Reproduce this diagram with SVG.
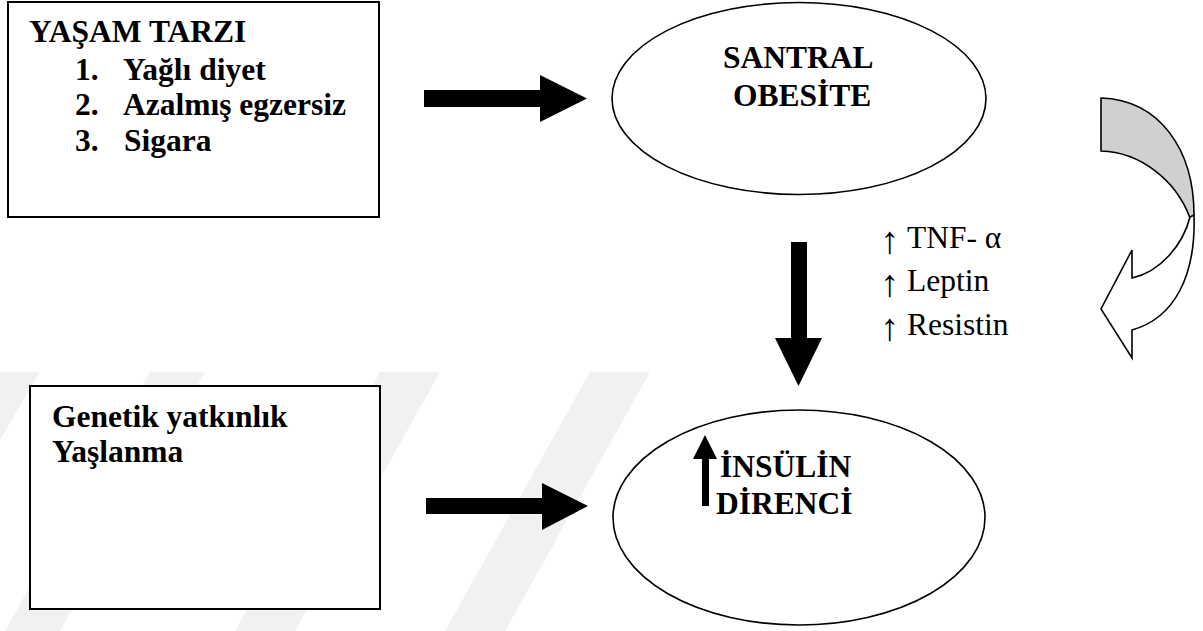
<svg xmlns="http://www.w3.org/2000/svg" width="1203" height="631" viewBox="0 0 1203 631">
<style>
.box{fill:#fff;stroke:#000;stroke-width:2}
.ell{fill:#fff;stroke:#000;stroke-width:1.6}
.b{font-family:'Liberation Serif','Times New Roman','DejaVu Serif',serif;font-weight:bold;font-size:31.5px;fill:#000}
.r{font-family:'Liberation Serif','Times New Roman','DejaVu Serif',serif;font-size:31.5px;fill:#000}
.up{font-size:38px}
.arr{fill:#000;stroke:none}
.wm{fill:#f1f1f1;stroke:none}
</style>
<rect x="0" y="0" width="1203" height="631" fill="#fff"/>
<g id="watermark">
<polygon class="wm" points="150,372 205,372 60,631 5,631"/>
<polygon class="wm" points="380,372 440,372 295,631 235,631"/>
<polygon class="wm" points="590,372 650,372 505,631 445,631"/>
<polygon class="wm" points="0,372 40,372 0,440"/>
</g>
<g id="lifestyle">
<rect class="box" x="8" y="2" width="371" height="215"/>
<text class="b" x="29" y="42">YAŞAM TARZI</text>
<text class="b" y="80"><tspan x="75">1.</tspan><tspan x="123">Yağlı diyet</tspan></text>
<text class="b" y="115"><tspan x="75">2.</tspan><tspan x="123">Azalmış egzersiz</tspan></text>
<text class="b" y="151"><tspan x="75">3.</tspan><tspan x="124">Sigara</tspan></text>
</g>
<g id="obesity">
<ellipse class="ell" cx="799" cy="98.5" rx="187" ry="96"/>
<text class="b" x="723" y="68">SANTRAL</text>
<text class="b" x="733" y="106">OBESİTE</text>
</g>
<g id="genetic">
<rect class="box" x="30" y="386" width="350" height="223"/>
<text class="b" x="52" y="427">Genetik yatkınlık</text>
<text class="b" x="52" y="462">Yaşlanma</text>
</g>
<g id="insulin">
<ellipse class="ell" cx="799" cy="517.5" rx="186" ry="107.5"/>
<polygon class="arr" points="702,506 702,459 693,459 705,435 717,459 709,459 709,506"/>
<text class="b" x="720" y="477">İNSÜLİN</text>
<text class="b" x="716" y="514">DİRENCİ</text>
</g>
<g id="mediators">
<text class="r"><tspan class="up" x="880" y="253">↑</tspan><tspan x="907" y="248">TNF- α</tspan></text>
<text class="r"><tspan class="up" x="880" y="296">↑</tspan><tspan x="907" y="291">Leptin</tspan></text>
<text class="r"><tspan class="up" x="880" y="340">↑</tspan><tspan x="907" y="335">Resistin</tspan></text>
</g>
<g id="connectors">
<polygon class="arr" points="424,90 540,90 540,75 587,98.5 540,122 540,107 424,107"/>
<polygon class="arr" points="791,242 807,242 807,338 822,338 798.5,386 775,338 791,338"/>
<polygon class="arr" points="426,498 542,498 542,483 588,506 542,530 542,514 426,514"/>
<g id="curved-arrow" stroke="#000" stroke-width="1.6" stroke-linejoin="miter">
<path d="M1101,98 C1160,100 1194,150 1194,215 L1190,218 C1176,180 1140,152 1101,151 Z" fill="#d0d0d0"/>
<path d="M1190,217 C1183,245 1160,272 1132,278 L1132,250 L1101,309 L1132,358 L1132,330 C1175,318 1196,275 1194,215 Z" fill="#fff"/>
</g>
</g>
</svg>
